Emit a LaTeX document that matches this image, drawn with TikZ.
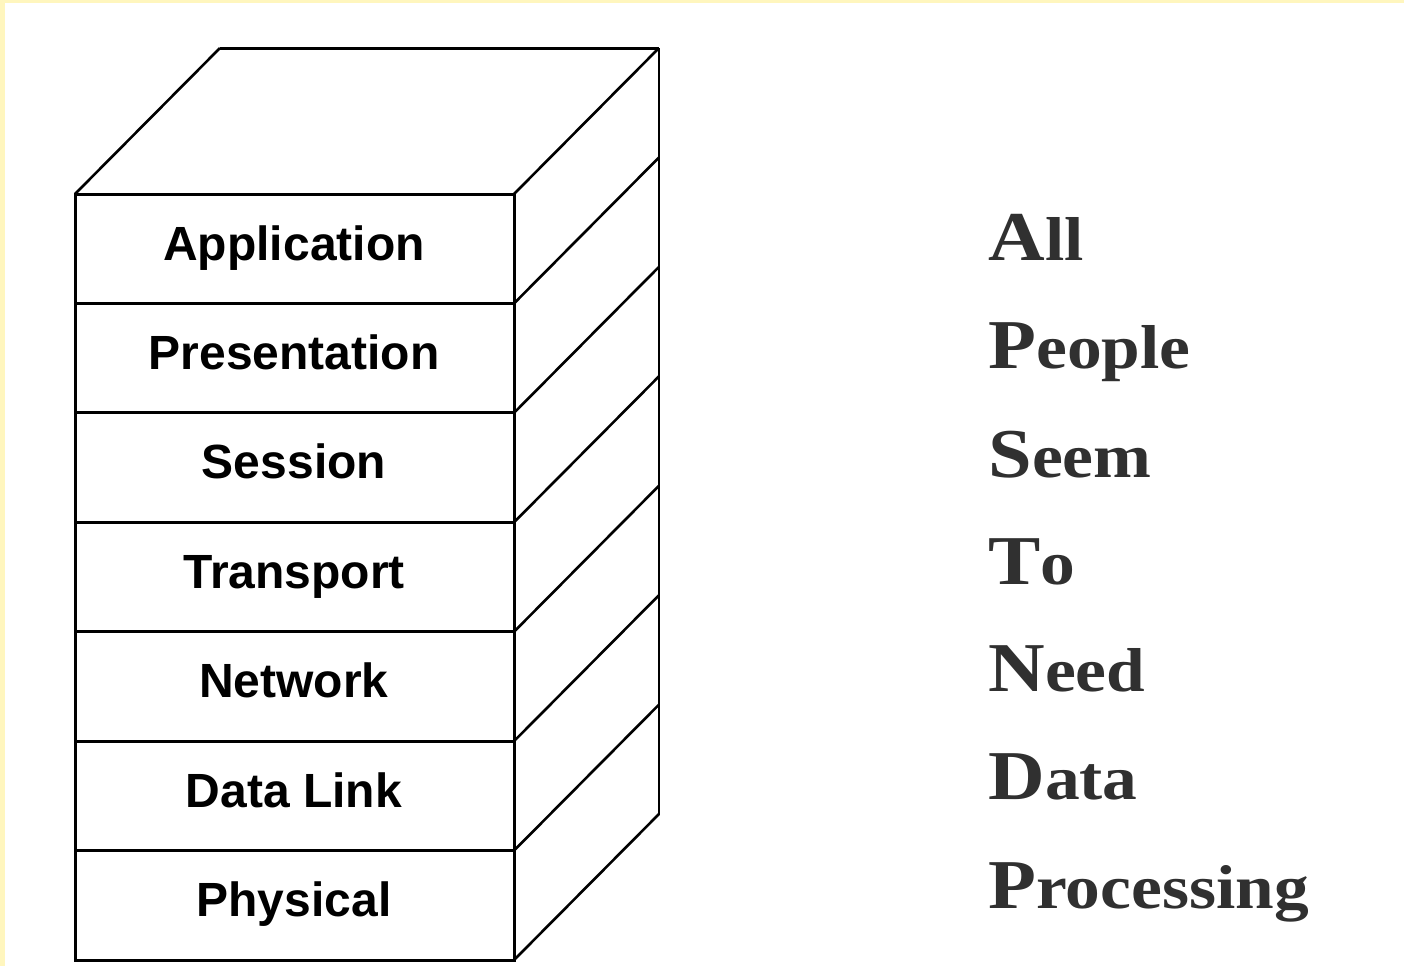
\documentclass[tikz,border=0pt]{standalone}
\usepackage{fontspec}
\setmainfont{Liberation Sans}
\newfontfamily\mnem[FakeStretch=1.12]{Liberation Serif}
\definecolor{edgeyellow}{RGB}{255,246,190}
\definecolor{mnemgray}{RGB}{48,48,48}
\tikzset{
  layerlabel/.style={anchor=base, font=\bfseries\fontsize{24}{28}\selectfont, inner sep=0pt},
  mnemword/.style={anchor=base west, text=mnemgray, inner sep=0pt},
  edge/.style={line width=1.5pt, line join=miter},
  sideedge/.style={line width=1.3pt, line join=miter}
}
\newcommand{\bigL}[2]{{\mnem\bfseries\fontsize{35}{40}\selectfont #1\fontsize{31}{36}\selectfont #2}}
\begin{document}
\begin{tikzpicture}[x=0.5pt,y=-0.5pt]
\fill[white] (0,0) rectangle (1404,966);
\fill[edgeyellow] (0,0) rectangle (1404,3);
\fill[edgeyellow] (0,0) rectangle (5,966);
\useasboundingbox (0,0) rectangle (1404,966);

% top face
\coordinate (ftl) at (75,194);
\coordinate (ftr) at (514,194);
\coordinate (btl) at (220,48);
\coordinate (btr) at (659,48);
\coordinate (bbr) at (659,815);
\draw[sideedge] (ftl) -- (btl);
\draw[edge] (btl) -- (btr);
\draw[sideedge] (btr) -- (ftr);
\draw[sideedge] (btr) -- (bbr);

% layers
\foreach \i/\t in {0/Application,1/Presentation,2/Session,3/Transport,4/Network,5/Data Link,6/Physical}{
  \pgfmathsetmacro{\ytop}{194+\i*109.43}
  \pgfmathsetmacro{\ybot}{194+(\i+1)*109.43}
  \draw[edge] (75,\ytop) rectangle (514,\ybot);
  \draw[sideedge] (514,\ybot) -- ++(145,-146);
  \node[layerlabel] (layer\i) at (294,\ytop+66) {\t};
}

% mnemonic
\node[mnemword] (mA) at (988,260) {\bigL{A}{ll}};
\node[mnemword] (mP) at (988,368) {\bigL{P}{eople}};
\node[mnemword] (mS) at (988,477) {\bigL{S}{eem}};
\node[mnemword] (mT) at (988,584) {\bigL{T}{o}};
\node[mnemword] (mN) at (988,691) {\bigL{N}{eed}};
\node[mnemword] (mD) at (988,799) {\bigL{D}{ata}};
\node[mnemword] (mPr) at (988,908) {\bigL{P}{rocessing}};
\end{tikzpicture}
\end{document}
